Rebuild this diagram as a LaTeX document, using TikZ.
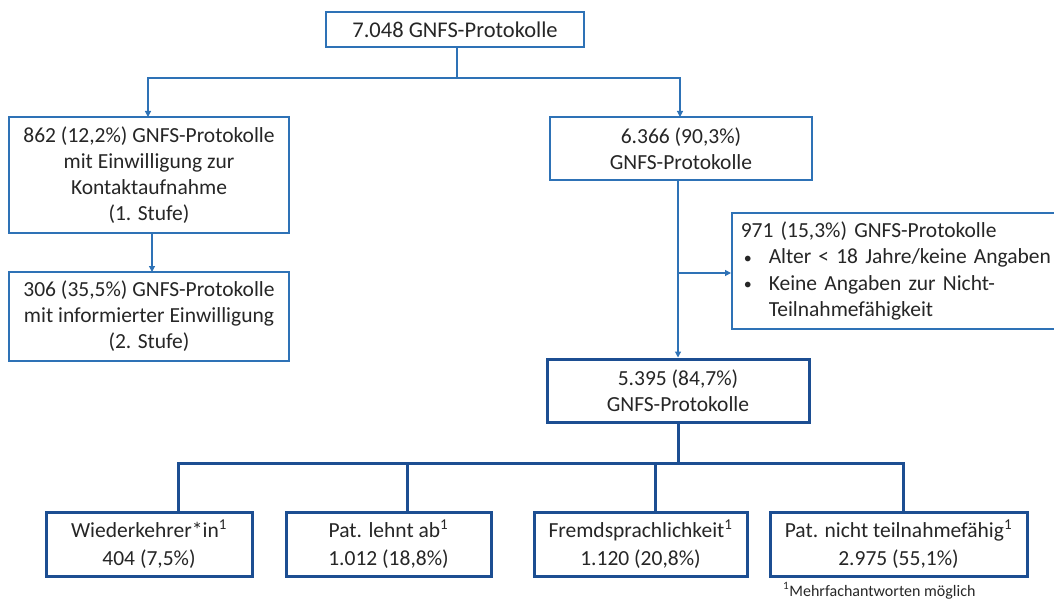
\documentclass[tikz,border=0pt]{standalone}
\usepackage{fontspec}
\setmainfont{Carlito}
\usetikzlibrary{positioning, arrows.meta}
\definecolor{thinblue}{RGB}{46,114,182}
\definecolor{darkblue}{RGB}{28,78,146}
\definecolor{textgray}{RGB}{38,38,38}
\newcommand{\smallbullet}{\makebox[28pt][l]{\hspace{3pt}\raisebox{0.5pt}{\fontsize{16}{16}\selectfont\textbullet}}}

\begin{document}
\begin{tikzpicture}[x=1pt, y=-1pt,
    font=\fontsize{21.5}{26}\selectfont, text=textgray,
    box/.style={draw=thinblue, line width=1.5pt, fill=white, align=center, inner sep=0pt},
    bigbox/.style={draw=darkblue, line width=3pt, fill=white, align=center, inner sep=0pt,
        font=\fontsize{21.5}{28}\selectfont},
    link/.style={draw=thinblue, line width=1.2pt},
    arr/.style={link, -{Triangle[length=6pt, width=6pt]}},
    bus/.style={draw=darkblue, line width=3pt}]
    \useasboundingbox (0,0) rectangle (1054,599);
    \begin{scope}
    \clip (0,0) rectangle (1054,599);
    \node[box, minimum width=258pt, minimum height=35pt, font=\fontsize{22.5}{26}\selectfont] (all) at (455,29.5) {7.048 GNFS-Protokolle};
    \node[box, minimum width=280pt, minimum height=116pt] (stage1) at (149,175) {862 (12,2\%) GNFS-Protokolle\\mit Einwilligung zur\\Kontaktaufnahme\\(1. Stufe)};
    \node[box, minimum width=280pt, minimum height=89pt] (stage2) at (149,316.5) {306 (35,5\%) GNFS-Protokolle\\mit informierter Einwilligung\\(2. Stufe)};
    \node[box, minimum width=262pt, minimum height=63pt] (rest) at (681,148.5) {6.366 (90,3\%)\\GNFS-Protokolle};
    \node[box, anchor=north west, text width=322pt, minimum height=116pt, align=left, inner xsep=9pt,
        font=\fontsize{21.5}{26.5}\selectfont] (excl) at (731,212)
        {971 (15,3\%) GNFS-Protokolle\\
         \smallbullet Alter < 18 Jahre/keine Angaben\\
         \smallbullet Keine Angaben zur Nicht-\\
         \hspace*{28pt}Teilnahmefähigkeit};
    \node[bigbox, minimum width=262pt, minimum height=63pt, font=\fontsize{21.5}{26}\selectfont] (valid) at (678,390.5) {5.395 (84,7\%)\\GNFS-Protokolle};

    \node[bigbox, minimum width=206pt, minimum height=64pt] (back) at (149,544) {Wiederkehrer*in\textsuperscript{1}\\404 (7,5\%)};
    \node[bigbox, minimum width=205pt, minimum height=64pt] (refuse) at (388.5,544) {Pat. lehnt ab\textsuperscript{1}\\1.012 (18,8\%)};
    \node[bigbox, minimum width=213pt, minimum height=64pt] (lang) at (640.5,544) {Fremdsprachlichkeit\textsuperscript{1}\\1.120 (20,8\%)};
    \node[bigbox, minimum width=257pt, minimum height=64pt] (unable) at (898.5,544) {Pat. nicht teilnahmefähig\textsuperscript{1}\\2.975 (55,1\%)};

    \node[anchor=base west, inner sep=0pt, font=\fontsize{16}{18}\selectfont] (note) at (783,596) {\textsuperscript{1}Mehrfachantworten möglich};

    % upper tree
    \coordinate (split) at (457,78);
    \draw[link] (all.south -| split) -- (split);
    \draw[arr] (split) -| (148,117);
    \draw[arr] (split) -| (680,117);
    \draw[arr] (152,233) -- (152,272);
    \coordinate (branch) at (678,273);
    \draw[link] (678,180) -- (branch);
    \draw[arr] (branch) -- (valid.north -| branch);
    \draw[arr] (branch) -- (excl.west |- branch);

    % lower tree
    \coordinate (hub) at (678,463);
    \draw[bus] (valid.south -| hub) -- (hub);
    \draw[bus] (178,512) |- (hub) -| (903,512);
    \draw[bus] (407,463) -- (refuse.north -| 407,0);
    \draw[bus] (655,463) -- (lang.north -| 655,0);
    \end{scope}
\end{tikzpicture}
\end{document}
